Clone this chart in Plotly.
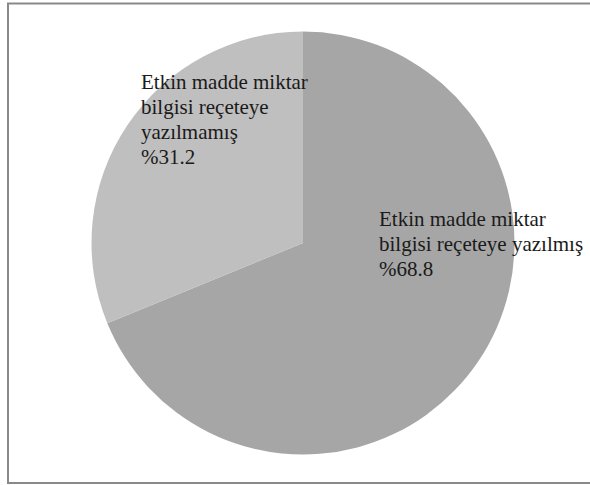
import plotly.graph_objects as go

# Share of prescriptions by whether the active-ingredient amount was written
labels = [
    "Etkin madde miktar bilgisi reçeteye yazılmış",
    "Etkin madde miktar bilgisi reçeteye yazılmamış",
]
values = [68.8, 31.2]
label_lines = [
    ["Etkin madde miktar", "bilgisi reçeteye yazılmış", "%68.8"],
    ["Etkin madde miktar", "bilgisi reçeteye", "yazılmamış", "%31.2"],
]
colors = ["#a6a6a6", "#bfbfbf"]

W, H = 590, 485
cx, cy, r = 303.0, 243.0, 211.5

fig = go.Figure(
    go.Pie(
        labels=labels,
        values=values,
        sort=False,
        direction="clockwise",
        rotation=0,
        marker=dict(colors=colors, line=dict(width=0)),
        textinfo="none",
        hoverinfo="label+percent",
        showlegend=False,
        domain=dict(
            x=[(cx - r) / W, (cx + r) / W],
            y=[(H - cy - r) / H, (H - cy + r) / H],
        ),
    )
)

# Label blocks: left edge and first-line centre (pixels), 25 px line step
label_pos = [(377, 219), (139, 82)]
line_step = 25
annotations = []
for lines, (lx, ly) in zip(label_lines, label_pos):
    for i, line in enumerate(lines):
        annotations.append(
            dict(
                x=lx / W,
                y=(H - (ly + i * line_step)) / H,
                xref="paper",
                yref="paper",
                xanchor="left",
                yanchor="middle",
                text=line,
                showarrow=False,
                align="left",
                font=dict(family="Liberation Serif", size=21, color="#1a1a1a"),
            )
        )

fig.update_layout(
    width=W,
    height=H,
    margin=dict(l=0, r=0, t=0, b=0),
    paper_bgcolor="white",
    plot_bgcolor="white",
    annotations=annotations,
    shapes=[
        dict(
            type="rect",
            xref="paper",
            yref="paper",
            x0=8 / W,
            x1=1.02,
            y0=(H - 483) / H,
            y1=(H - 3.5) / H,
            line=dict(color="#898989", width=2),
            fillcolor="rgba(0,0,0,0)",
            layer="above",
        )
    ],
)

fig.write_html("out.html")
